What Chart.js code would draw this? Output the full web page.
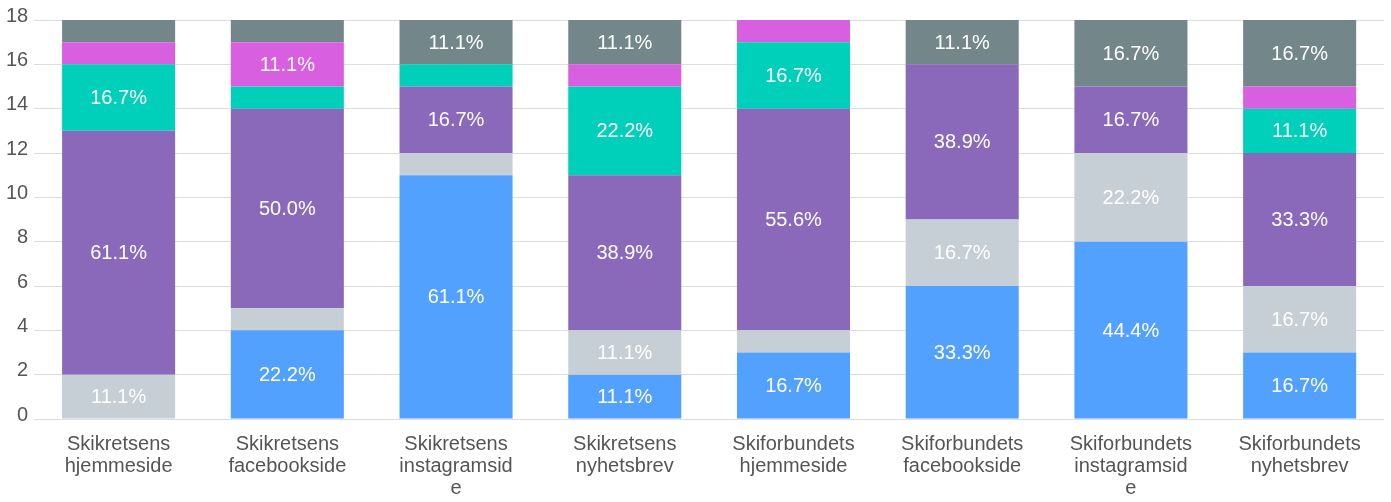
<!DOCTYPE html>
<html>
<head>
<meta charset="utf-8">
<script src="https://cdn.jsdelivr.net/npm/chart.js@4"></script>
<style>
  html, body { margin: 0; padding: 0; background: #fff; }
  #wrap { width: 1391px; height: 502px; position: relative; }
</style>
</head>
<body>
<div id="wrap"><canvas id="chart"></canvas></div>
<script>
// categories (wrapped the same way the axis shows them)
const categories = [
  ["Skikretsens", "hjemmeside"],
  ["Skikretsens", "facebookside"],
  ["Skikretsens", "instagramsid", "e"],
  ["Skikretsens", "nyhetsbrev"],
  ["Skiforbundets", "hjemmeside"],
  ["Skiforbundets", "facebookside"],
  ["Skiforbundets", "instagramsid", "e"],
  ["Skiforbundets", "nyhetsbrev"]
];

// answer counts per channel, bottom to top
const seriesBlue    = [0, 4, 11, 2, 3, 6, 8, 3];
const seriesSilver  = [2, 1, 1, 2, 1, 3, 4, 3];
const seriesPurple  = [11, 9, 3, 7, 10, 7, 3, 6];
const seriesTeal    = [3, 1, 1, 4, 3, 0, 0, 2];
const seriesPink    = [1, 2, 0, 1, 1, 0, 0, 1];
const seriesGrey    = [1, 1, 2, 2, 0, 2, 3, 3];

const yTicks = [0, 2, 4, 6, 8, 10, 12, 14, 16, 18];

const palette = ["#52a1ff", "#c6cfd6", "#8a69bb", "#00cfb9", "#d75fe0", "#73878b"];
const allSeries = [seriesBlue, seriesSilver, seriesPurple, seriesTeal, seriesPink, seriesGrey];

const totals = categories.map((_, i) => allSeries.reduce((s, arr) => s + arr[i], 0));

// percentage labels inside each segment (only when the segment is big enough)
const segmentLabels = {
  id: "segmentLabels",
  afterDatasetsDraw(chart) {
    const ctx = chart.ctx;
    ctx.save();
    ctx.font = "20px 'Liberation Sans', Arial, sans-serif";
    ctx.fillStyle = "#ffffff";
    ctx.textAlign = "center";
    ctx.textBaseline = "middle";
    chart.data.datasets.forEach((ds, di) => {
      const meta = chart.getDatasetMeta(di);
      meta.data.forEach((bar, i) => {
        const v = ds.data[i];
        const pct = v / totals[i] * 100;
        if (pct < 10) return;
        const p = bar.getProps(["x", "y", "base"], true);
        ctx.fillText(pct.toFixed(1) + "%", p.x, (p.y + p.base) / 2 + 1);
      });
    });
    ctx.restore();
  }
};

const ctx = document.getElementById("chart");
new Chart(ctx, {
  type: "bar",
  data: {
    labels: categories,
    datasets: allSeries.map((data, k) => ({
      data,
      backgroundColor: palette[k],
      borderWidth: 0,
      categoryPercentage: 1,
      barPercentage: 0.67
    }))
  },
  options: {
    responsive: true,
    maintainAspectRatio: false,
    animation: false,
    layout: { padding: { top: 20, right: 7, bottom: -3, left: 0 } },
    plugins: { legend: { display: false }, tooltip: { enabled: false } },
    scales: {
      x: {
        stacked: true,
        grid: { display: false },
        border: { display: false },
        ticks: {
          color: "#555",
          padding: 6,
          maxRotation: 0,
          autoSkip: false,
          font: { family: "'Liberation Sans', Arial, sans-serif", size: 20, lineHeight: 1.1 }
        }
      },
      y: {
        stacked: true,
        min: 0,
        max: 18,
        afterBuildTicks(axis) { axis.ticks = yTicks.map(v => ({ value: v })); },
        grid: { color: "#dddddd", lineWidth: 1, drawTicks: false },
        border: { display: false },
        ticks: {
          color: "#555",
          padding: 6,
          labelOffset: -4,
          font: { family: "'Liberation Sans', Arial, sans-serif", size: 20 }
        }
      }
    }
  },
  plugins: [segmentLabels]
});
</script>
</body>
</html>
